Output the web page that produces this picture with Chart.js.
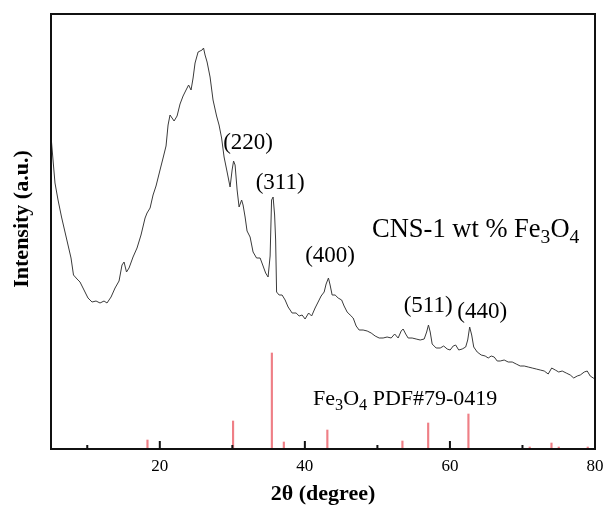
<!DOCTYPE html>
<html>
<head>
<meta charset="utf-8">
<script src="https://cdn.jsdelivr.net/npm/chart.js@4.4.1/dist/chart.umd.min.js"></script>
<style>
  html, body { margin: 0; padding: 0; background: #fff; }
</style>
</head>
<body>
<canvas id="xrd" width="604" height="505"></canvas>
<script>
// measured XRD trace (2theta, arbitrary intensity)
const twoTheta = [5.0,5.28,5.55,5.97,6.45,6.93,7.41,7.76,8.10,8.59,
  9.0,9.55,10.10,10.66,11.21,11.76,12.31,12.72,13.28,13.83,
  14.38,14.79,15.07,15.41,15.76,16.31,16.86,17.41,17.97,18.24,
  18.66,19.07,19.48,20.03,20.45,20.86,21.14,21.41,21.69,21.97,
  22.38,22.79,23.21,23.62,23.97,24.31,24.59,24.86,25.28,25.55,
  25.83,26.03,26.24,26.52,26.93,27.34,27.83,28.17,28.52,28.86,
  29.28,29.69,29.97,30.17,30.38,30.66,30.93,31.28,31.48,31.76,
  32.03,32.45,32.86,33.34,33.83,34.24,34.59,34.93,35.21,35.41,
  35.62,35.83,35.97,36.10,36.45,36.86,37.28,37.69,38.24,38.79,
  39.21,39.62,40.03,40.52,40.93,41.41,41.83,42.24,42.66,42.93,
  43.25,43.48,43.76,44.17,44.59,45.07,45.41,45.83,46.24,46.66,
  47.07,47.48,48.03,48.59,49.14,49.69,50.24,50.79,51.34,51.90,
  52.38,52.86,53.28,53.55,53.90,54.24,54.79,55.34,55.90,56.45,
  56.79,57.04,57.28,57.55,58.10,58.66,59.14,59.62,60.03,60.45,
  60.79,61.21,61.69,62.17,62.45,62.72,63.00,63.28,63.76,64.31,
  64.86,65.28,65.69,66.10,66.52,66.93,67.48,68.03,68.59,69.14,
  69.69,70.24,70.79,71.34,71.90,72.45,73.00,73.55,74.03,74.52,
  75.00,75.48,76.03,76.59,77.07,77.55,77.97,78.52,78.93,79.34,
  79.76,80.0];
const intensity = [313,289,266,249,232,217,202,191,174,170,
  167,159,151,147,148,146,148,146,152,161,
  168,184,187,177,181,192,201,214,231,236,
  241,254,263,279,291,303,324,334,331,328,
  333,345,353,359,364,359,371,386,397,398,
  399,401,394,387,372,349,333,324,311,292,
  277,262,279,288,284,259,242,249,244,232,
  218,212,197,191,191,183,176,172,193,249,
  252,234,209,157,154,154,149,142,136,136,
  133,134,130,136,133,141,147,153,157,165,
  171,164,154,154,151,149,143,137,134,131,
  123,119,119,118,116,113,111,111,112,111,
  115,111,118,120,115,111,111,110,109,110,
  117,124,117,105,101,101,103,100,99,103,
  104,99,100,102,109,122,114,102,97,94,
  93,91,93,92,88,88,89,87,87,85,
  83,83,82,81,80,79,78,75,81,79,
  77,78,76,74,71,73,74,77,78,73,
  71,70];

// Fe3O4 PDF#79-0419 reference lines
const refPos = [18.3, 30.1, 35.45, 37.1, 43.1, 53.45, 57.0, 62.55, 71.0, 74.0, 75.0, 79.0];
const refInt = [9, 28, 96, 7, 19, 8, 26, 35, 2, 6, 2, 2];

const majorTicks = [20, 40, 60, 80];
const minorTicks = [10, 30, 50, 70];

const peakLabels = ["(220)", "(311)", "(400)", "(511)", "(440)"];
// where each label sits, in data units
const peakLabelAt = [[32.17, 306], [36.59, 266], [43.48, 193], [57.0, 143], [64.45, 137]];

const serif = "'Liberation Serif', 'Times New Roman', serif";

/* ---------- text with subscripts ---------- */
function drawRich(ctx, parts, x, y, size) {
  let cx = x;
  parts.forEach(([txt, sub]) => {
    const s = sub ? size * 0.74 : size;
    ctx.font = s + "px " + serif;
    ctx.fillText(txt, cx, sub ? y + size * 0.22 : y);
    cx += ctx.measureText(txt).width;
  });
}

/* ---------- frame, inward ticks, labels ---------- */
const decor = {
  id: "decor",
  afterDatasetsDraw(chart) {
    const { ctx, chartArea: a, scales } = chart;
    ctx.save();
    ctx.strokeStyle = "#111";
    ctx.lineWidth = 2;
    ctx.strokeRect(a.left, a.top, a.right - a.left, a.bottom - a.top);
    ctx.beginPath();
    majorTicks.forEach(v => {
      const x = scales.x.getPixelForValue(v);
      ctx.moveTo(x, a.bottom);
      ctx.lineTo(x, a.bottom - 8);
    });
    minorTicks.forEach(v => {
      const x = scales.x.getPixelForValue(v);
      ctx.moveTo(x, a.bottom);
      ctx.lineTo(x, a.bottom - 4);
    });
    ctx.stroke();
    ctx.restore();
  },
  afterDraw(chart) {
    const { ctx, scales } = chart;
    ctx.save();
    ctx.fillStyle = "#000";

    // y title
    ctx.translate(22, 219);
    ctx.rotate(-Math.PI / 2);
    ctx.font = "bold 22px " + serif;
    ctx.textAlign = "center";
    ctx.textBaseline = "middle";
    ctx.fillText("Intensity (a.u.)", 0, 0);
    ctx.setTransform(1, 0, 0, 1, 0, 0);

    // hkl labels
    ctx.font = "23px " + serif;
    peakLabels.forEach((t, i) => {
      const [px, py] = peakLabelAt[i];
      ctx.fillText(t, scales.x.getPixelForValue(px), scales.y.getPixelForValue(py));
    });

    ctx.textAlign = "left";
    ctx.textBaseline = "alphabetic";
    drawRich(ctx, [["CNS-1 wt % Fe", 0], ["3", 1], ["O", 0], ["4", 1]], 372, 237, 26.5);
    drawRich(ctx, [["Fe", 0], ["3", 1], ["O", 0], ["4", 1], [" PDF#79-0419", 0]], 313, 405, 22);
    ctx.restore();
  }
};

const ctx = document.getElementById("xrd").getContext("2d");
new Chart(ctx, {
  type: "line",
  data: {
    datasets: [
      {
        type: "line",
        data: twoTheta.map((x, i) => ({ x, y: intensity[i] })),
        borderColor: "#3a3a3a",
        borderWidth: 1,
        pointRadius: 0,
        tension: 0,
        fill: false
      },
      {
        type: "bar",
        data: refPos.map((x, i) => ({ x, y: refInt[i] })),
        backgroundColor: "#ef7f86",
        barThickness: 1.5
      }
    ]
  },
  options: {
    responsive: false,
    animation: false,
    devicePixelRatio: 1,
    layout: { padding: { left: 51, top: 14, right: 9, bottom: 0 } },
    plugins: { legend: { display: false }, tooltip: { enabled: false } },
    scales: {
      x: {
        type: "linear",
        min: 5,
        max: 80,
        offset: false,
        afterBuildTicks: s => { s.ticks = majorTicks.map(v => ({ value: v })); },
        afterFit: s => { s.height = 56; s.paddingLeft = 0; s.paddingRight = 9; },
        grid: { display: false, drawTicks: false, offset: false },
        border: { display: false },
        ticks: { font: { family: serif, size: 17 }, color: "#000", padding: 7.5, maxRotation: 0, autoSkip: false },
        title: {
          display: true,
          text: "2θ (degree)",
          color: "#000",
          font: { family: serif, size: 22, weight: "bold", lineHeight: 1 },
          padding: { top: 0, bottom: 0 }
        }
      },
      y: { display: false, min: 0, max: 435 }
    }
  },
  plugins: [decor]
});
</script>
</body>
</html>
